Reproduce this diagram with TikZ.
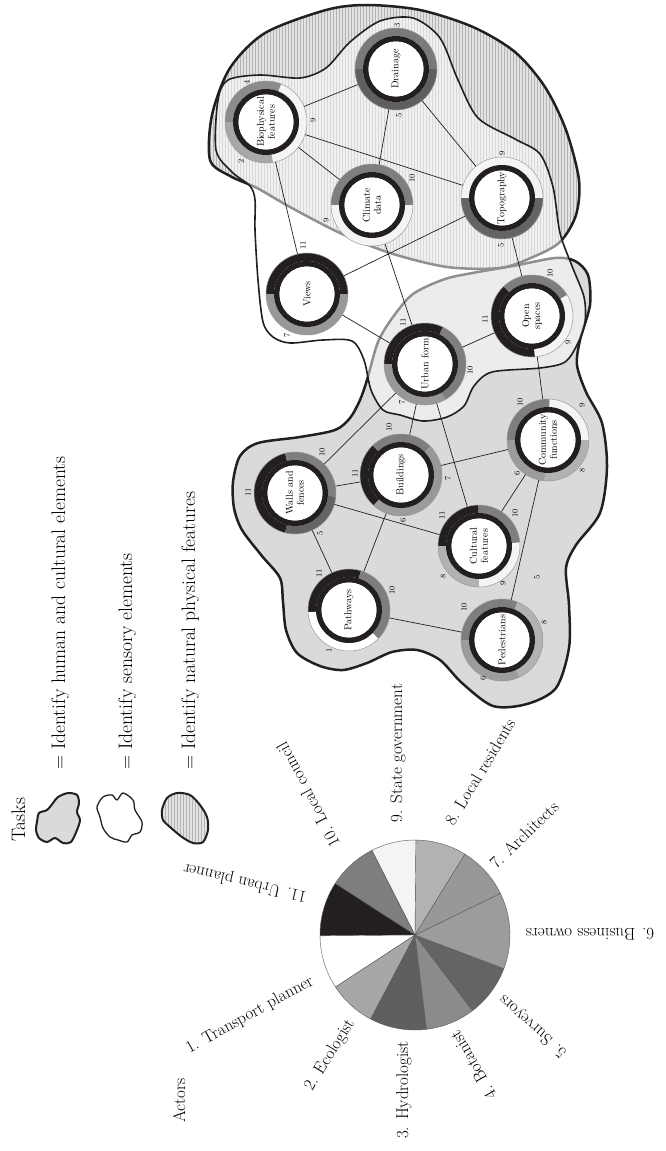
\documentclass[tikz,border=0pt]{standalone}
\usetikzlibrary{patterns}

\definecolor{ink}{HTML}{231F20}
\definecolor{aone}{HTML}{FFFFFF}
\definecolor{atwo}{HTML}{A7A7A9}
\definecolor{athree}{HTML}{5F5F62}
\definecolor{athreer}{HTML}{7A7A7C}
\definecolor{afour}{HTML}{8B8B8D}
\definecolor{afive}{HTML}{646467}
\definecolor{asix}{HTML}{9C9C9E}
\definecolor{aseven}{HTML}{98989A}
\definecolor{aeight}{HTML}{B2B2B4}
\definecolor{anine}{HTML}{F4F4F4}
\definecolor{aten}{HTML}{7E7E81}
\definecolor{hfill}{HTML}{DADADC}
\definecolor{nbase}{HTML}{E2E2E4}
\definecolor{nstripe}{HTML}{B4B4B6}
\definecolor{ringedge}{HTML}{9A9A9C}
\definecolor{pieline}{HTML}{5A5A5C}

\pgfdeclarelayer{regions}
\pgfdeclarelayer{rings}
\pgfsetlayers{regions,rings,main}

% one coloured slice of an element's outer ring
\newcommand\ringseg[4]{%
  \fill[#4] ([shift={(#2:41pt)}]#1.center) arc[start angle=#2, end angle=#3, radius=41pt]
    -- ([shift={(#3:33pt)}]#1.center) arc[start angle=#3, end angle=#2, radius=33pt] -- cycle;}
% thin rim, black band and white face of an element
\newcommand\ringcore[1]{%
  \draw[ringedge, line width=0.5pt] (#1.center) circle[radius=41pt];
  \draw[ink, line width=5.5pt] (#1.center) circle[radius=30.25pt];
  \fill[white] (#1.center) circle[radius=27.5pt];}
% one slice of the actors pie
\newcommand\sector[3]{%
  \filldraw[fill=#3, draw=pieline, line width=0.4pt] (pie) -- ([shift={(#1:95pt)}]pie)
    arc[start angle=#1, end angle=#2, radius=95pt] -- cycle;}
% small actor numbers around the rings
\newcounter{tally}
\newcommand\tallylabel[2]{\stepcounter{tally}\node[num] (t\arabic{tally}) at (#1) {#2};}

\tikzset{
  elem/.style={circle, minimum size=82pt, inner sep=0pt, align=center, rotate=90,
    font=\fontsize{10}{11}\selectfont},
  link/.style={line width=0.7pt, ink},
  num/.style={rotate=90, inner sep=0pt, font=\fontsize{8}{9}\selectfont},
  actor/.style={inner sep=0pt, font=\fontsize{17}{20}\selectfont},
  legend/.style={inner sep=0pt, rotate=90, anchor=base west, font=\fontsize{19.5}{23}\selectfont},
  natural/.style={preaction={fill=nbase}, preaction={pattern=vertical lines, pattern color=nstripe},
    draw=ink, line width=2.5pt},
  human/.style={fill=hfill, draw=ink, line width=2.5pt},
  sensory/.style={fill=white, fill opacity=0.5, draw=ink, line width=1.6pt},
}

\begin{document}
\begin{tikzpicture}[x=1pt, y=1pt, line join=round]
\useasboundingbox (0,0) rectangle (666,-1151);

% ---------- task regions ----------
\begin{pgfonlayer}{regions}
\path[natural] plot[smooth cycle] coordinates {
  (210,-160) (212,-115) (230,-68) (265,-33) (326,-10) (367,-5) (420,-10) (473,-27)
  (515,-52) (545,-87) (566,-130) (579,-180) (576,-215) (560,-242) (533,-257)
  (500,-268) (447,-267) (390,-253) (340,-233) (290,-207) (257,-188) (230,-176)};
\path[human] plot[smooth cycle] coordinates {
  (367,-380) (360,-400) (350,-418) (335,-430) (300,-437) (258,-443) (240,-456)
  (233,-482) (234,-508) (242,-530) (262,-556) (280,-578) (283,-602) (286,-630)
  (297,-653) (320,-666) (343,-670) (367,-663) (392,-652) (417,-650) (440,-660)
  (462,-683) (493,-706) (527,-704) (556,-688) (569,-648) (569,-605) (566,-568)
  (576,-545) (600,-513) (607,-467) (602,-423) (586,-392) (577,-365) (580,-340)
  (590,-305) (588,-275) (575,-261) (555,-258) (513,-266) (478,-272) (445,-279)
  (413,-294) (393,-317) (378,-342)};
\path[sensory] plot[smooth cycle] coordinates {
  (216,-150) (218,-100) (228,-80) (260,-75) (300,-78) (326,-68) (350,-42) (380,-21)
  (413,-18) (440,-38) (458,-80) (478,-118) (515,-139) (540,-154) (553,-187)
  (560,-233) (572,-266) (584,-297) (585,-322) (578,-343) (565,-362) (540,-368)
  (492,-372) (474,-386) (464,-406) (447,-417) (423,-421) (400,-415) (383,-410)
  (371,-390) (364,-360) (352,-341) (323,-340) (290,-343) (273,-337) (263,-322)
  (258,-280) (255,-230) (255,-200) (250,-186) (232,-172)};
\end{pgfonlayer}

% ---------- elements ----------
\node[elem] (drain) at (396,-69)  {Drainage};
\node[elem] (bio)   at (266,-122) {Biophysical\\features};
\node[elem] (clim)  at (372,-205) {Climate\\data};
\node[elem] (topo)  at (502,-198) {Topography};
\node[elem] (views) at (307,-294) {Views};
\node[elem] (urban) at (425,-364) {Urban form};
\node[elem] (open)  at (532,-316) {Open\\spaces};
\node[elem] (comm)  at (548,-440) {Community\\functions};
\node[elem] (build) at (401,-475) {Buildings};
\node[elem] (walls) at (295,-493) {Walls and\\fences};
\node[elem] (cult)  at (479,-546) {Cultural\\features};
\node[elem] (pathw) at (349,-610) {Pathways};
\node[elem] (ped)   at (502,-640) {Pedestrians};

% ---------- links ----------
\draw[link] (bio) -- (drain);
\draw[link] (bio) -- (clim);
\draw[link] (bio) -- (topo);
\draw[link] (bio) -- (views);
\draw[link] (drain) -- (clim);
\draw[link] (drain) -- (topo);
\draw[link] (clim) -- (urban);
\draw[link] (topo) -- (views);
\draw[link] (topo) -- (open);
\draw[link] (views) -- (urban);
\draw[link] (urban) -- (open);
\draw[link] (urban) -- (walls);
\draw[link] (urban) -- (build);
\draw[link] (urban) -- (cult);
\draw[link] (open) -- (comm);
\draw[link] (comm) -- (build);
\draw[link] (comm) -- (cult);
\draw[link] (comm) -- (ped);
\draw[link] (walls) -- (build);
\draw[link] (walls) -- (cult);
\draw[link] (walls) -- (pathw);
\draw[link] (build) -- (pathw);
\draw[link] (pathw) -- (ped);

% ---------- rings ----------
\begin{pgfonlayer}{rings}
\ringseg{drain}{0}{180}{athreer}
\ringseg{drain}{180}{360}{athree}
\ringcore{drain}
\ringseg{bio}{68}{180}{afour}
\ringseg{bio}{180}{280}{atwo}
\ringseg{bio}{-80}{68}{anine}
\ringcore{bio}
\ringseg{clim}{0}{180}{aten}
\ringseg{clim}{180}{360}{anine}
\ringcore{clim}
\ringseg{topo}{0}{180}{anine}
\ringseg{topo}{180}{360}{afive}
\ringcore{topo}
\ringseg{views}{0}{180}{ink}
\ringseg{views}{180}{360}{aseven}
\ringcore{views}
\ringseg{urban}{64}{180}{ink}
\ringseg{urban}{180}{300}{aseven}
\ringseg{urban}{-60}{64}{aten}
\ringcore{urban}
\ringseg{open}{31}{134}{aten}
\ringseg{open}{134}{274}{ink}
\ringseg{open}{-86}{31}{anine}
\ringcore{open}
\ringseg{comm}{0}{88}{anine}
\ringseg{comm}{88}{180}{aten}
\ringseg{comm}{180}{265}{asix}
\ringseg{comm}{265}{360}{aeight}
\ringcore{comm}
\ringseg{build}{44}{134}{aten}
\ringseg{build}{134}{228}{ink}
\ringseg{build}{228}{317}{asix}
\ringseg{build}{-43}{44}{aseven}
\ringcore{build}
\ringseg{walls}{104}{256}{ink}
\ringseg{walls}{256}{355}{afive}
\ringseg{walls}{-5}{104}{aten}
\ringcore{walls}
\ringseg{cult}{5}{91}{aten}
\ringseg{cult}{91}{180}{ink}
\ringseg{cult}{180}{270}{aeight}
\ringseg{cult}{270}{365}{anine}
\ringcore{cult}
\ringseg{pathw}{73}{183}{ink}
\ringseg{pathw}{183}{316}{aone}
\ringseg{pathw}{-44}{73}{aten}
\ringcore{pathw}
\ringseg{ped}{-65}{68}{aeight}
\ringseg{ped}{68}{180}{aten}
\ringseg{ped}{180}{295}{asix}
\ringcore{ped}
\end{pgfonlayer}

% ---------- actor numbers on the rings ----------
\tallylabel{397,-25}{3}   \tallylabel{399,-115}{5}
\tallylabel{247,-82}{4}   \tallylabel{313,-120}{9}  \tallylabel{241,-161}{2}
\tallylabel{412,-178}{10} \tallylabel{326,-220}{9}
\tallylabel{502,-153}{9}  \tallylabel{501,-245}{5}
\tallylabel{303,-245}{11} \tallylabel{287,-335}{7}
\tallylabel{403,-322}{11} \tallylabel{470,-370}{10} \tallylabel{402,-402}{7}
\tallylabel{550,-273}{10} \tallylabel{485,-319}{11} \tallylabel{568,-342}{9}
\tallylabel{520,-402}{10} \tallylabel{582,-405}{9}  \tallylabel{517,-473}{6}  \tallylabel{582,-470}{8}
\tallylabel{389,-427}{10} \tallylabel{355,-473}{11} \tallylabel{448,-478}{7}  \tallylabel{403,-520}{6}
\tallylabel{248,-492}{11} \tallylabel{322,-452}{10} \tallylabel{320,-533}{5}
\tallylabel{442,-515}{11} \tallylabel{515,-513}{10} \tallylabel{443,-576}{8}  \tallylabel{503,-583}{9}
\tallylabel{537,-577}{5}
\tallylabel{319,-573}{11} \tallylabel{392,-590}{10} \tallylabel{329,-650}{1}
\tallylabel{464,-607}{10} \tallylabel{544,-622}{8}  \tallylabel{483,-678}{6}

% ---------- legend ----------
\node[legend] (tasks) at (25,-842) {Tasks};
\path[fill=hfill, draw=ink, line width=2pt] plot[smooth cycle] coordinates {
  (37,-822) (39,-813) (47,-810) (53,-803) (58,-797) (68,-793) (77,-795) (79,-803)
  (77,-812) (80,-820) (77,-830) (71,-842) (63,-843) (55,-838) (47,-842) (39,-838) (36,-830)};
\path[fill=white, draw=ink, line width=1.3pt] plot[smooth cycle] coordinates {
  (97,-807) (103,-797) (112,-795) (117,-800) (123,-793) (133,-800) (135,-810)
  (142,-822) (140,-832) (132,-835) (127,-842) (118,-840) (110,-837) (103,-828) (100,-817)};
\path[natural, line width=2pt] plot[smooth cycle] coordinates {
  (162,-810) (167,-798) (177,-793) (190,-795) (200,-805) (207,-817) (208,-830)
  (203,-842) (193,-843) (182,-837) (170,-827) (163,-820)};
\node[legend] (lgh) at (65,-770)  {= Identify human and cultural elements};
\node[legend] (lgs) at (132,-770) {= Identify sensory elements};
\node[legend] (lgn) at (195,-770) {= Identify natural physical features};

% ---------- actors pie ----------
\coordinate (pie) at (415,-935);
\sector{58.3}{89.5}{aeight}
\sector{89.5}{117}{anine}
\sector{117}{147.2}{aten}
\sector{147.2}{180.5}{ink}
\sector{180.5}{213.2}{aone}
\sector{213.2}{242.2}{atwo}
\sector{242.2}{277}{athree}
\sector{277}{307.3}{afour}
\sector{307.3}{339.3}{afive}
\sector{339.3}{386}{asix}
\sector{26}{58.3}{aseven}

\node[legend, font=\fontsize{17}{20}\selectfont] (actors) at (185,-1123) {Actors};
\node[actor, rotate=29]  (act1)  at (250,-1015) {1. Transport planner};
\node[actor, rotate=58]  (act2)  at (330,-1055) {2. Ecologist};
\node[actor, rotate=90]  (act3)  at (404,-1090) {3. Hydrologist};
\node[actor, rotate=120] (act4)  at (473,-1065) {4. Botanist};
\node[actor, rotate=138] (act5)  at (533,-1026) {5. Surveyors};
\node[actor, rotate=180] (act6)  at (590,-934)  {6. Business owners};
\node[actor, rotate=44]  (act7)  at (524,-835)  {7. Architects};
\node[actor, rotate=59]  (act8)  at (480,-772)  {8. Local residents};
\node[actor, rotate=90]  (act9)  at (398,-753)  {9. State government};
\node[actor, rotate=118] (act10) at (308,-795)  {10. Local council};
\node[actor, rotate=167] (act11) at (245,-882)  {11. Urban planner};
\end{tikzpicture}
\end{document}
